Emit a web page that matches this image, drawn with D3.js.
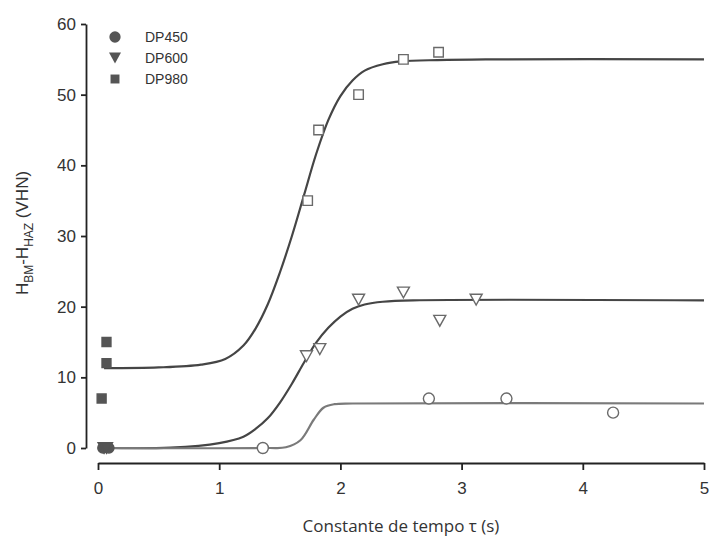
<!DOCTYPE html>
<html>
<head>
<meta charset="utf-8">
<script src="https://cdn.jsdelivr.net/npm/d3@7"></script>
<style>
  body { margin: 0; background: #fff; }
  svg { display: block; }
</style>
</head>
<body>
<div id="chart"></div>
<script>
'use strict';

// measured points (open = fitted region, filled = near zero)
var dp980Open = [[1.73, 35], [1.82, 45], [2.15, 50], [2.52, 55], [2.81, 56]];
var dp980Filled = [[0.03, 7], [0.07, 12], [0.07, 15]];
var dp600Open = [[1.72, 13], [1.83, 14], [2.15, 21], [2.52, 22], [2.82, 18], [3.12, 21]];
var dp600Filled = [[0.05, 0], [0.07, 0]];
var dp450Open = [[1.36, 0], [2.73, 7], [3.37, 7], [4.25, 5]];
var dp450Filled = [[0.04, 0], [0.09, 0]];

// fitted curves
var dp980Fit = [[0.05, 11.3], [0.5, 11.4], [0.85, 11.8], [1.05, 12.6], [1.2, 14.5], [1.3, 16.9],
  [1.4, 20.3], [1.5, 24.8], [1.6, 30.0], [1.7, 35.8], [1.8, 41.6], [1.9, 46.4], [2.0, 49.8],
  [2.1, 52.0], [2.2, 53.4], [2.35, 54.3], [2.5, 54.7], [2.8, 54.9], [3.2, 55], [5, 55]];
var dp600Fit = [[0.05, 0], [0.6, 0.05], [1.0, 0.7], [1.2, 1.6], [1.3, 2.7], [1.4, 4.2], [1.5, 6.4],
  [1.6, 9.1], [1.7, 12.1], [1.8, 14.9], [1.9, 17.0], [2.0, 18.6], [2.1, 19.7], [2.2, 20.3],
  [2.35, 20.7], [2.6, 20.9], [5, 20.9]];
var dp450Fit = [[0.05, 0], [1.4, 0], [1.55, 0.1], [1.67, 1.1], [1.78, 4.0], [1.86, 5.7],
  [1.95, 6.2], [2.1, 6.3], [5, 6.3]];

var legendNames = ['DP450', 'DP600', 'DP980'];
var xTicks = [0, 1, 2, 3, 4, 5];
var yTicks = [0, 10, 20, 30, 40, 50, 60];

var width = 711;
var height = 540;

var svg = d3.select('#chart').append('svg')
    .attr('width', width)
    .attr('height', height);

var x = d3.scaleLinear().domain([0, 5]).range([98, 704]);
var y = d3.scaleLinear().domain([0, 60]).range([448, 24]);

// axes
var yAxis = svg.append('g')
    .attr('transform', 'translate(86,0)')
    .call(d3.axisLeft(y).tickValues(yTicks).tickFormat(d3.format('d'))
        .tickSize(5).tickSizeOuter(0).tickPadding(5));

var xAxis = svg.append('g')
    .attr('transform', 'translate(0,463)')
    .call(d3.axisBottom(x).tickValues(xTicks).tickFormat(d3.format('d'))
        .tickSize(7).tickSizeOuter(0).tickPadding(12));

[xAxis, yAxis].forEach(function(ax) {
    ax.select('.domain').attr('stroke', '#222').attr('stroke-width', 1.8);
    ax.selectAll('.tick line').attr('stroke', '#222').attr('stroke-width', 1.8);
    ax.selectAll('.tick text')
        .attr('fill', '#333')
        .style('font-family', 'Liberation Sans, Arial, sans-serif')
        .style('font-size', '17px');
});

// fitted curves
var line = d3.line()
    .x(function(d) { return x(d[0]); })
    .y(function(d) { return y(d[1]); })
    .curve(d3.curveCatmullRom.alpha(0.5));

var fits = [
    { data: dp980Fit, color: '#454545' },
    { data: dp600Fit, color: '#454545' },
    { data: dp450Fit, color: '#7a7a7a' }
];

fits.forEach(function(f) {
    svg.append('path')
        .datum(f.data)
        .attr('d', line)
        .attr('fill', 'none')
        .attr('stroke', f.color)
        .attr('stroke-width', 2.2);
});

// markers
var symSquare = d3.symbol().type(d3.symbolSquare);
var symCircle = d3.symbol().type(d3.symbolCircle);
var triDown = function(s) {
    var h = s * 0.9;
    return 'M' + (-s / 2) + ',' + (-h / 2) + 'L' + (s / 2) + ',' + (-h / 2) + 'L0,' + (h / 2) + 'Z';
};

var drawMarkers = function(data, shape, filled) {
    svg.append('g').selectAll('path')
        .data(data)
        .enter().append('path')
        .attr('transform', function(d) { return 'translate(' + x(d[0]) + ',' + y(d[1]) + ')'; })
        .attr('d', shape)
        .attr('fill', filled ? '#555' : '#fff')
        .attr('stroke', filled ? '#555' : '#6a6a6a')
        .attr('stroke-width', 1.4);
};

drawMarkers(dp980Open, symSquare.size(90)(), false);
drawMarkers(dp600Open, triDown(12), false);
drawMarkers(dp450Open, symCircle.size(95)(), false);
drawMarkers(dp450Filled, symCircle.size(80)(), true);
drawMarkers(dp600Filled, triDown(12), true);
drawMarkers(dp980Filled, symSquare.size(80)(), true);

// legend
var legendShapes = [symCircle.size(100)(), triDown(12), symSquare.size(80)()];
var legend = svg.append('g');
legendNames.forEach(function(name, i) {
    var ly = 37 + i * 21;
    legend.append('path')
        .attr('transform', 'translate(115,' + ly + ')')
        .attr('d', legendShapes[i])
        .attr('fill', '#555');
    legend.append('text')
        .attr('x', 145)
        .attr('y', ly + 5)
        .attr('fill', '#333')
        .style('font-family', 'Liberation Sans, Arial, sans-serif')
        .style('font-size', '14px')
        .text(name);
});

// axis titles
svg.append('text')
    .attr('x', 401)
    .attr('y', 532)
    .attr('text-anchor', 'middle')
    .attr('fill', '#333')
    .style('font-family', 'Open Sans, sans-serif')
    .style('font-size', '17px')
    .text('Constante de tempo τ (s)');

var yTitle = svg.append('text')
    .attr('transform', 'translate(28,233) rotate(-90)')
    .attr('text-anchor', 'middle')
    .attr('fill', '#333')
    .style('font-family', 'Liberation Sans, Arial, sans-serif')
    .style('font-size', '17px');
yTitle.append('tspan').text('H');
yTitle.append('tspan').attr('dy', 5).style('font-size', '12px').text('BM');
yTitle.append('tspan').attr('dy', -5).text('-H');
yTitle.append('tspan').attr('dy', 5).style('font-size', '12px').text('HAZ');
yTitle.append('tspan').attr('dy', -5).text(' (VHN)');
</script>
</body>
</html>
